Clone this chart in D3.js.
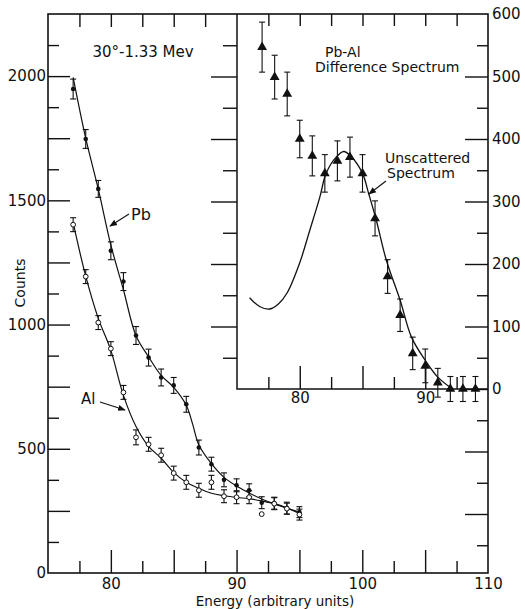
<!DOCTYPE html>
<html>
<head>
<meta charset="utf-8">
<script src="https://cdn.jsdelivr.net/npm/d3@7"></script>
<style>
  body { margin: 0; background: #fff; }
  text { font-family: "DejaVu Sans", sans-serif; fill: #111; }
</style>
</head>
<body>
<div id="chart"></div>
<script>
// measured points, main plot (counts vs energy)
var energy = [77, 78, 79, 80, 81, 82, 83, 84, 85, 86, 87, 88, 89, 90, 91, 92, 93, 94, 95];
var pbCounts = [1948, 1747, 1546, 1297, 1173, 956, 867, 787, 755, 679, 505, 438, 375, 353, 333, 283, 281, 261, 245];
var pbErr = [40, 38, 34, 36, 36, 36, 34, 34, 32, 32, 30, 28, 28, 26, 26, 24, 24, 24, 22];
var alCounts = [1402, 1193, 1008, 903, 727, 546, 518, 474, 402, 365, 333, 365, 309, 305, 305, 237, 279, 259, 235];
var alErr = [28, 28, 28, 28, 28, 30, 28, 28, 28, 28, 28, 28, 26, 26, 26, 0, 24, 22, 22];

// smooth curves drawn through the points
var pbCurve = [[77, 1995], [78, 1750], [79, 1545], [80, 1320], [81, 1140], [82, 955], [83, 870], [84, 795],
  [85, 747], [86, 675], [86.5, 600], [87, 515], [88, 440], [89, 385], [90, 350], [91, 322], [92, 298],
  [93, 278], [94, 261], [95, 245]];
var alCurve = [[77, 1410], [78, 1195], [79, 1025], [80, 896], [81, 715], [82, 590], [83, 510], [84, 462],
  [85, 405], [86, 365], [87, 341], [88, 321], [89, 311], [90, 304], [91, 299], [92, 290], [93, 279],
  [94, 262], [95, 240]];

// inset: Pb-Al difference spectrum
var diffEnergy = [77, 78, 79, 80, 81, 82, 83, 84, 85, 86, 87, 88, 89, 90, 91, 92, 93, 94];
var diffCounts = [547, 499, 472, 400, 373, 345, 365, 371, 345, 273, 180, 118, 57, 37, 10, 0, 0, 0];
var diffErr = [40, 35, 35, 30, 32, 30, 32, 32, 30, 28, 27, 26, 26, 27, 23, 20, 20, 20];
var unscattered = [[76.0, 146], [76.8, 132], [77.6, 128], [78.3, 136], [79.0, 154], [80.0, 202], [80.8, 254],
  [81.6, 307], [82.1, 345], [82.9, 371], [83.5, 380], [84.1, 372], [85.0, 345], [85.5, 312], [86.1, 270],
  [86.9, 206], [88.0, 142], [88.9, 83], [90.0, 46], [91.0, 19], [92.1, 1]];

// tick values
var mainXLabels = [80, 90, 100, 110];
var mainYLabels = [0, 500, 1000, 1500, 2000];
var insetXLabels = [80, 90];
var insetYLabels = [0, 100, 200, 300, 400, 500, 600];

var width = 525, height = 609;
var svg = d3.select("#chart").append("svg")
  .attr("width", width).attr("height", height);

var pLeft = 48, pTop = 14, pRight = 488, pBottom = 573;
var insetLeft = 237, insetBottom = 389;

var x = d3.scaleLinear().domain([75, 110]).range([pLeft, pRight]);
var y = d3.scaleLinear().domain([0, 2250]).range([pBottom, pTop]);
var xi = d3.scaleLinear().domain([75, 95]).range([insetLeft, pRight]);
var yi = d3.scaleLinear().domain([0, 600]).range([insetBottom, pTop]);

function ticksBy(a, b, step) { return d3.range(a, b + step / 2, step); }

// ticks with mixed lengths, all pointing into the plot
function tickGroup(axisFn, scale, values, len, tx, ty) {
  var g = svg.append("g").attr("transform", "translate(" + tx + "," + ty + ")")
    .call(axisFn(scale).tickValues(values).tickSize(-len).tickFormat(""));
  g.select(".domain").remove();
  g.selectAll("line").attr("stroke", "#111").attr("stroke-width", 1.4);
}

// main frame
tickGroup(d3.axisLeft, y, ticksBy(125, 2125, 250), 11, pLeft, 0);
tickGroup(d3.axisLeft, y, ticksBy(250, 2000, 250), 22, pLeft, 0);
tickGroup(d3.axisBottom, x, ticksBy(77.5, 107.5, 5), 12, 0, pBottom);
tickGroup(d3.axisBottom, x, ticksBy(80, 105, 5), 23, 0, pBottom);
tickGroup(d3.axisTop, x, ticksBy(77.5, 87.5, 2.5), 13, 0, pTop);
// right edge carries the inset scale all the way down
tickGroup(d3.axisRight, yi, ticksBy(-250, 550, 100), 11, pRight, 0);
tickGroup(d3.axisRight, yi, ticksBy(-200, 500, 100), 23, pRight, 0);

// inset ticks
tickGroup(d3.axisRight, yi, ticksBy(50, 550, 100), 14, insetLeft, 0);
tickGroup(d3.axisRight, yi, ticksBy(100, 500, 100), 26, insetLeft, 0);
tickGroup(d3.axisBottom, xi, ticksBy(77.5, 92.5, 5), 12, 0, insetBottom);
tickGroup(d3.axisBottom, xi, ticksBy(80, 90, 5), 23, 0, insetBottom);
tickGroup(d3.axisTop, xi, ticksBy(77.5, 92.5, 2.5), 12, 0, pTop);

svg.append("rect")
  .attr("x", pLeft).attr("y", pTop).attr("width", pRight - pLeft).attr("height", pBottom - pTop)
  .attr("fill", "none").attr("stroke", "#111").attr("stroke-width", 1.6);
svg.append("path")
  .attr("d", "M" + insetLeft + "," + pTop + "V" + insetBottom + "H" + pRight)
  .attr("fill", "none").attr("stroke", "#111").attr("stroke-width", 1.5);

// tick labels
function labelAxis(axisFn, scale, values, pad, tx, ty) {
  var g = svg.append("g").attr("transform", "translate(" + tx + "," + ty + ")")
    .call(axisFn(scale).tickValues(values).tickSize(0).tickPadding(pad).tickFormat(d3.format("d")));
  g.select(".domain").remove();
  g.selectAll("text").style("font-family", "DejaVu Sans, sans-serif")
    .style("font-size", "15px").attr("fill", "#111");
}
labelAxis(d3.axisLeft, y, mainYLabels, 2, pLeft, 0);
labelAxis(d3.axisBottom, x, mainXLabels, 5, 0, pBottom);
labelAxis(d3.axisBottom, xi, insetXLabels, 3, 0, insetBottom);
labelAxis(d3.axisRight, yi, insetYLabels, 4, pRight, 0);

// curves
var lineMain = d3.line().x(function (d) { return x(d[0]); }).y(function (d) { return y(d[1]); })
  .curve(d3.curveCatmullRom.alpha(0.5));
var lineInset = d3.line().x(function (d) { return xi(d[0]); }).y(function (d) { return yi(d[1]); })
  .curve(d3.curveCatmullRom.alpha(0.5));

[pbCurve, alCurve].forEach(function (c) {
  svg.append("path").attr("d", lineMain(c))
    .attr("fill", "none").attr("stroke", "#111").attr("stroke-width", 1.2);
});
svg.append("path").attr("d", lineInset(unscattered))
  .attr("fill", "none").attr("stroke", "#111").attr("stroke-width", 1.3);

// error bars
function errorBars(xs, vals, errs, sx, sy) {
  var g = svg.append("g").attr("stroke", "#111").attr("stroke-width", 1.1);
  xs.forEach(function (e, i) {
    if (!errs[i]) return;
    var px = sx(e), y0 = sy(vals[i] - errs[i]), y1 = sy(vals[i] + errs[i]);
    g.append("line").attr("x1", px).attr("x2", px).attr("y1", y0).attr("y2", y1);
    g.append("line").attr("x1", px - 3).attr("x2", px + 3).attr("y1", y0).attr("y2", y0);
    g.append("line").attr("x1", px - 3).attr("x2", px + 3).attr("y1", y1).attr("y2", y1);
  });
}
errorBars(energy, pbCounts, pbErr, x, y);
errorBars(energy, alCounts, alErr, x, y);
errorBars(diffEnergy, diffCounts, diffErr, xi, yi);

// markers
svg.append("g").selectAll("circle").data(energy).enter().append("circle")
  .attr("cx", function (d) { return x(d); })
  .attr("cy", function (d, i) { return y(pbCounts[i]); })
  .attr("r", 2.3).attr("fill", "#111");
svg.append("g").selectAll("circle").data(energy).enter().append("circle")
  .attr("cx", function (d) { return x(d); })
  .attr("cy", function (d, i) { return y(alCounts[i]); })
  .attr("r", 2.4).attr("fill", "#fff").attr("stroke", "#111").attr("stroke-width", 1);
svg.append("g").selectAll("path").data(diffEnergy).enter().append("path")
  .attr("d", d3.symbol().type(d3.symbolTriangle).size(42))
  .attr("transform", function (d, i) { return "translate(" + xi(d) + "," + yi(diffCounts[i]) + ")"; })
  .attr("fill", "#111");

// arrows
svg.append("defs").append("marker")
  .attr("id", "head").attr("viewBox", "0 0 10 10").attr("refX", 9).attr("refY", 5)
  .attr("markerWidth", 7).attr("markerHeight", 7).attr("orient", "auto")
  .append("path").attr("d", "M0,1L10,5L0,9Z").attr("fill", "#111");
function arrow(x1, y1, x2, y2) {
  svg.append("line").attr("x1", x1).attr("y1", y1).attr("x2", x2).attr("y2", y2)
    .attr("stroke", "#111").attr("stroke-width", 1.1).attr("marker-end", "url(#head)");
}
arrow(129, 214, 110, 226);
arrow(100, 402, 125, 410);
arrow(386, 181, 369, 194);

// annotations
function label(txt, tx, ty, size, anchor) {
  svg.append("text").attr("x", tx).attr("y", ty).attr("text-anchor", anchor || "start")
    .style("font-size", size + "px").text(txt);
}
label("30°-1.33 Mev", 143, 57, 15, "middle");
label("Pb", 131, 220, 16);
label("Al", 81, 404, 15);
label("Pb-Al", 325, 57, 14);
label("Difference Spectrum", 315, 72, 14);
label("Unscattered", 385, 163, 14);
label("Spectrum", 387, 178, 14);
label("Energy (arbitrary units)", 275, 606, 13.5, "middle");

svg.append("text")
  .attr("transform", "translate(25,283) rotate(-90)")
  .attr("text-anchor", "middle")
  .style("font-size", "14px").text("Counts");
</script>
</body>
</html>
